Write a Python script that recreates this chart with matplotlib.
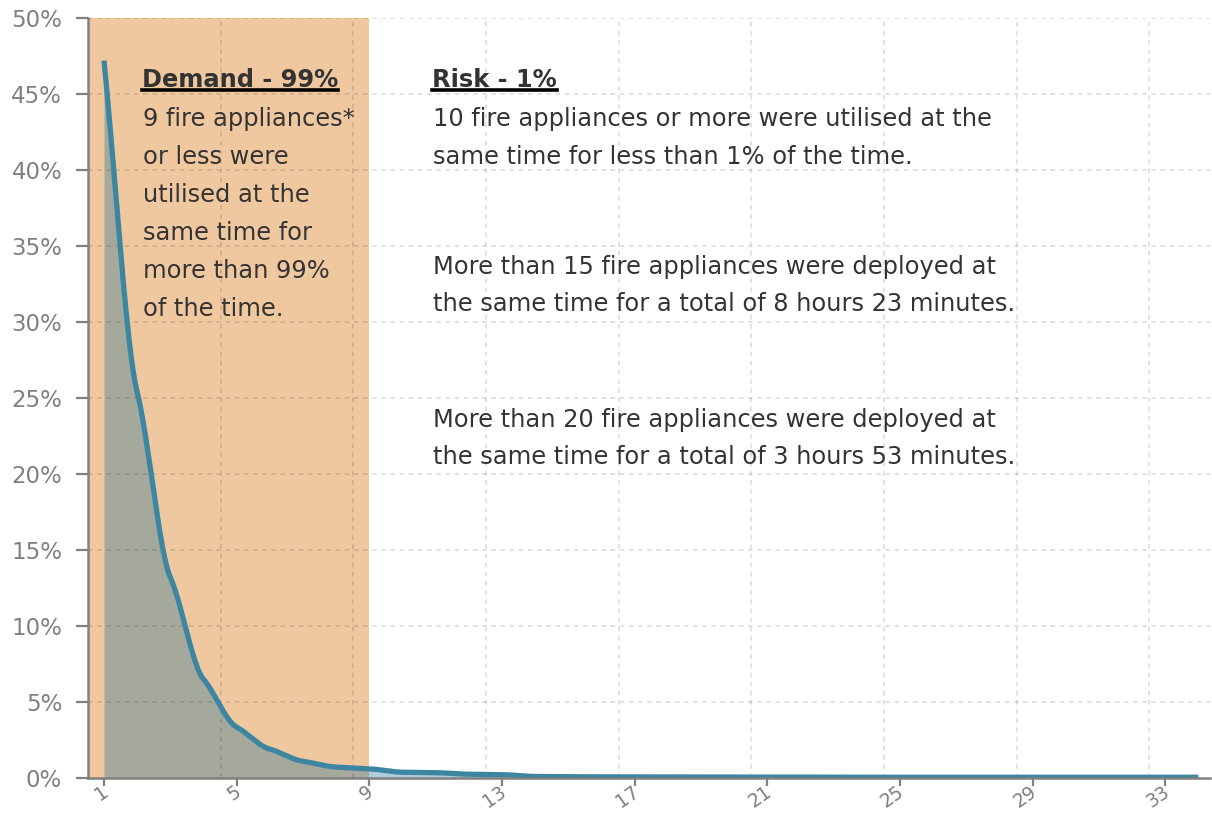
import numpy as np
import matplotlib
matplotlib.use('Agg')
import matplotlib.pyplot as plt
from matplotlib.ticker import FixedLocator, FuncFormatter
from matplotlib.lines import Line2D
from matplotlib.transforms import ScaledTranslation

""" data """
appliances = list(range(1, 35))
pct_time = [47.2, 25.4, 13.2, 6.5, 3.35, 1.9, 1.1, 0.72, 0.6, 0.38,
            0.35, 0.25, 0.22, 0.1, 0.08, 0.08, 0.07, 0.07, 0.07, 0.06,
            0.06, 0.06, 0.06, 0.05, 0.05, 0.05, 0.05, 0.05, 0.05, 0.05,
            0.05, 0.05, 0.05, 0.05]
x_ticks = [1, 5, 9, 13, 17, 21, 25, 29, 33]
y_ticks = [0, 5, 10, 15, 20, 25, 30, 35, 40, 45, 50]
demand_limit = 9

demand_title = "Demand - 99%"
demand_lines = ["9 fire appliances*", "or less were", "utilised at the",
                "same time for", "more than 99%", "of the time."]
risk_title = "Risk - 1%"
risk_lines = ["10 fire appliances or more were utilised at the",
              "same time for less than 1% of the time.",
              "More than 15 fire appliances were deployed at",
              "the same time for a total of 8 hours 23 minutes.",
              "More than 20 fire appliances were deployed at",
              "the same time for a total of 3 hours 53 minutes."]

LINE = "#3d86a2"
ORANGE = "#f0c8a0"
GREY = "#808080"
TXT = "#333333"
FS = 17.4


""" monotone cubic with flattened knots, only used to draw the line """
def monotone_curve(xs, ys, steps=24, tension=0.5):
    xs = np.asarray(xs, float)
    ys = np.asarray(ys, float)
    h = np.diff(xs)
    s = np.diff(ys) / h
    m = np.zeros_like(ys)
    for k in range(1, len(xs) - 1):
        p = (s[k-1] * h[k] + s[k] * h[k-1]) / (h[k-1] + h[k])
        m[k] = tension * (np.sign(s[k-1]) + np.sign(s[k])) * min(abs(s[k-1]), abs(s[k]), 0.5 * abs(p))
    m[0] = s[0]
    m[-1] = s[-1]
    out_x, out_y = [], []
    for k in range(len(xs) - 1):
        t = np.linspace(0, 1, steps, endpoint=False)
        h00 = 2*t**3 - 3*t**2 + 1
        h10 = t**3 - 2*t**2 + t
        h01 = -2*t**3 + 3*t**2
        h11 = t**3 - t**2
        out_x.append(xs[k] + t * h[k])
        out_y.append(h00*ys[k] + h10*h[k]*m[k] + h01*ys[k+1] + h11*h[k]*m[k+1])
    out_x.append([xs[-1]])
    out_y.append([ys[-1]])
    return np.concatenate(out_x), np.concatenate(out_y)


fig = plt.figure(figsize=(12.12, 8.13), dpi=100)
ax = fig.add_axes([88/1212, 1 - 778/813, (1210 - 88)/1212, (778 - 18)/813])

x0 = 0.518
ax.set_xlim(x0, 34.35)
ax.set_ylim(0, 50)

ax.axvspan(x0, demand_limit, color=ORANGE, zorder=0.2, lw=0)

cx, cy = monotone_curve(appliances, pct_time)
ax.fill_between(cx, 0, cy, color="#1a7096", alpha=0.35, lw=0, zorder=1)
ax.plot(cx, cy, color=LINE, lw=3.8, zorder=3, solid_capstyle='butt')

# grid (semi transparent so it also shows on the orange band)
for gx in np.arange(x0 + 4, 34, 4):
    ax.axvline(gx, color="black", alpha=0.15, lw=1.1, ls=(0, (3, 3)), zorder=2)
for gy in y_ticks[1:]:
    ax.axhline(gy, color="black", alpha=0.15, lw=1.1, ls=(0, (3, 3)), zorder=2)

ax.xaxis.set_major_locator(FixedLocator(x_ticks))
ax.yaxis.set_major_locator(FixedLocator(y_ticks))
ax.yaxis.set_major_formatter(FuncFormatter(lambda v, p: f"{int(v)}%"))
ax.tick_params(axis='both', colors=GREY, width=1.6)
ax.tick_params(axis='y', length=8.6, pad=10, labelsize=16.5)
ax.tick_params(axis='x', length=6, pad=0, labelsize=13.5)
offset = ScaledTranslation(-3/100, 4/100, fig.dpi_scale_trans)
for lab in ax.get_xticklabels():
    lab.set_rotation(35)
    lab.set_ha('right')
    lab.set_va('top')
    lab.set_rotation_mode('anchor')
    lab.set_transform(lab.get_transform() + offset)

for side in ['top', 'right']:
    ax.spines[side].set_visible(False)
for side in ['left', 'bottom']:
    ax.spines[side].set_color(GREY)
    ax.spines[side].set_linewidth(1.8)
    ax.spines[side].set_zorder(4)


""" text blocks """
def px(x, y):
    return x / 1212, 1 - y / 813

def underlined(x, y, s):
    t = fig.text(*px(x, y), s, fontsize=FS, fontweight='bold', color=TXT, va='baseline')
    fig.canvas.draw()
    bb = t.get_window_extent()
    yy = 1 - (y + 3.5) / 813
    fig.add_artist(Line2D([bb.x0 / fig.bbox.width, bb.x1 / fig.bbox.width], [yy, yy],
                          color='black', lw=2.6, transform=fig.transFigure))

underlined(142, 87, demand_title)
for i, line in enumerate(demand_lines):
    fig.text(*px(143, 126 + 38 * i), line, fontsize=FS, color=TXT, va='baseline')

underlined(432, 87, risk_title)
risk_base = [126, 164, 274, 311, 427, 464]
for line, yb in zip(risk_lines, risk_base):
    fig.text(*px(433, yb), line, fontsize=FS, color=TXT, va='baseline')

fig.savefig("out.png", dpi=100)
